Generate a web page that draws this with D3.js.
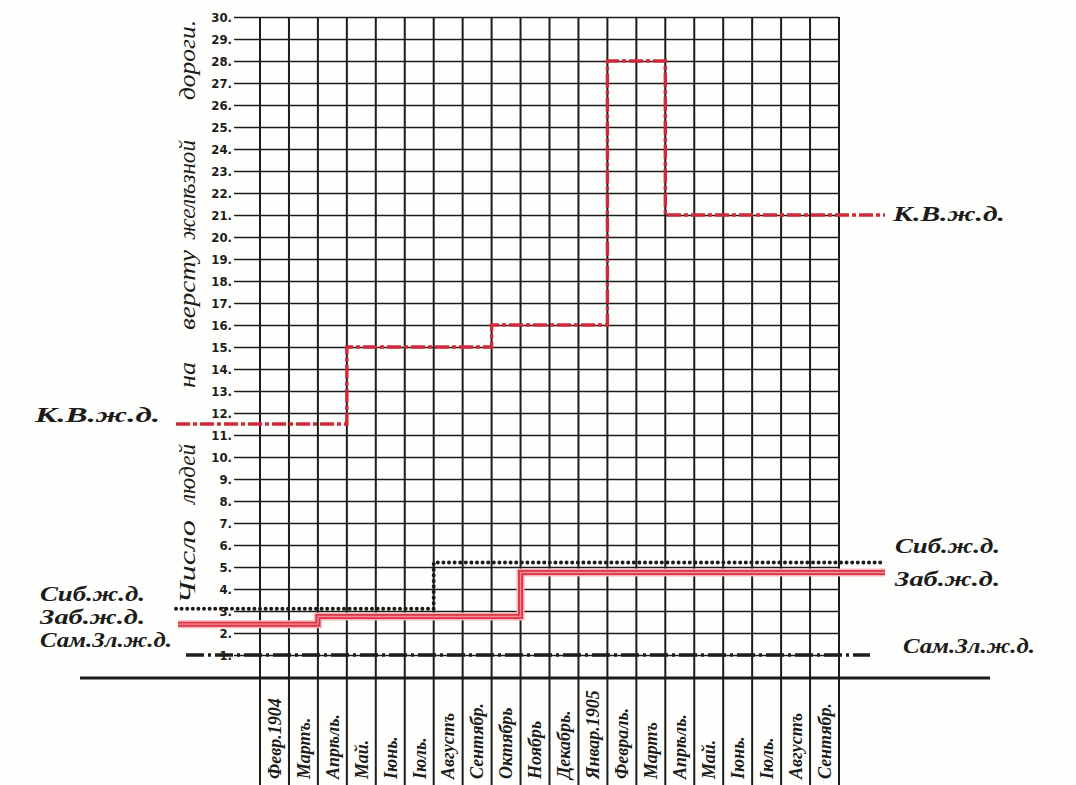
<!DOCTYPE html>
<html><head><meta charset="utf-8">
<script src="https://cdn.jsdelivr.net/npm/d3@7"></script>
<style>
html,body{margin:0;padding:0;background:#fefefc;}
svg{display:block;}
</style></head>
<body>
<svg id="chart" width="1076" height="785"></svg>
<script>
// ---- data ----
const months = ["Февр.1904","Мартъ.","Апрѣль.","Май.","Іюнь.","Іюль.","Августъ","Сентябр.","Октябрь","Ноябрь",
  "Декабрь.","Январ.1905","Февраль.","Мартъ","Апрѣль.","Май.","Іюнь.","Іюль.","Августъ","Сентябр."];
const yTicks = d3.range(1, 31);
const kvzd = [11.5,11.5,11.5,15,15,15,15,15,16,16,16,16,28,28,21,21,21,21,21,21];
const sibzd = [3.1,3.1,3.1,3.1,3.1,3.1,5.2,5.2,5.2,5.2,5.2,5.2,5.2,5.2,5.2,5.2,5.2,5.2,5.2,5.2];
const zabzd = [2.4,2.4,2.75,2.75,2.75,2.75,2.75,2.75,2.75,4.75,4.75,4.75,4.75,4.75,4.75,4.75,4.75,4.75,4.75,4.75];
const samzd = [1,1,1,1,1,1,1,1,1,1,1,1,1,1,1,1,1,1,1,1];
const seriesNames = ["К.В.ж.д.","Сиб.ж.д.","Заб.ж.д.","Сам.Зл.ж.д."];
const titleWords = ["Число","людей","на","версту","желѣзной","дороги."];

// ---- layout ----
const svg = d3.select("#chart");
const x = d3.scaleLinear().domain([0, months.length]).range([260, 839]);
const y = d3.scaleLinear().domain([0, 30]).range([677, 17]);
const ink = "#1c1c1a";
const red = "#d02a3a";
const script = "'Liberation Serif','DejaVu Serif',serif";

// horizontal grid + labels via axis
const yAxis = d3.axisLeft(y).tickValues(yTicks).tickFormat(d => d + ".")
  .tickSize(839 - 234).tickPadding(2);
const ga = svg.append("g").attr("transform", "translate(839,0)").call(yAxis);
ga.select(".domain").remove();
ga.selectAll(".tick line").attr("stroke", ink).attr("stroke-width", 1.6);
ga.selectAll(".tick text").attr("fill", ink).attr("font-family", "'DejaVu Sans Condensed','DejaVu Sans',sans-serif")
  .attr("font-weight", "bold").attr("font-size", 13);

// vertical grid (through label table)
svg.append("g").selectAll("line").data(d3.range(0, months.length + 1)).join("line")
  .attr("x1", d => x(d)).attr("x2", d => x(d))
  .attr("y1", y(30)).attr("y2", 785)
  .attr("stroke", ink).attr("stroke-width", 2);

// thick baseline
svg.append("line").attr("x1", 80).attr("x2", 990).attr("y1", y(0) + 1).attr("y2", y(0) + 1)
  .attr("stroke", ink).attr("stroke-width", 3);

// month labels
svg.append("g").selectAll("text").data(months).join("text")
  .attr("transform", (d, i) => `translate(${x(i + 0.5)},779) rotate(-90)`)
  .attr("dy", "0.35em")
  .attr("font-family", script).attr("font-style", "italic").attr("font-weight", "bold")
  .attr("font-size", 18).attr("fill", ink)
  .text(d => d);

// y title words
const titlePos = [562, 474, 375, 290, 190, 60];
const titleLen = [84, 60, 26, 80, 100, 80];
svg.append("g").selectAll("text").data(titleWords).join("text")
  .attr("transform", (d, i) => `translate(187,${titlePos[i]}) rotate(-90)`)
  .attr("text-anchor", "middle").attr("dy", "0.35em")
  .attr("textLength", (d, i) => titleLen[i]).attr("lengthAdjust", "spacingAndGlyphs")
  .attr("font-family", script).attr("font-style", "italic")
  .attr("font-size", 24).attr("fill", ink)
  .text(d => d);

// step lines
function stepPoints(vals, x0, x1) {
  const pts = [[x0, vals[0]]];
  vals.forEach((v, i) => pts.push([x(i), v]));
  pts.push([x(vals.length), vals[vals.length - 1]]);
  pts.push([x1, vals[vals.length - 1]]);
  return pts;
}
const line = d3.line().x(d => d[0]).y(d => y(d[1])).curve(d3.curveStepAfter);

// Заб.ж.д. : red double line
const zabPts = stepPoints(zabzd, 178, 885);
svg.append("path").attr("d", line(zabPts)).attr("fill", "none")
  .attr("stroke", "#f6b3b9").attr("stroke-width", 8);
svg.append("path").attr("d", line(zabPts)).attr("fill", "none")
  .attr("stroke", "#dc3646").attr("stroke-width", 5);
svg.append("path").attr("d", line(zabPts)).attr("fill", "none")
  .attr("stroke", "#f08e98").attr("stroke-width", 1.3);

// Сиб.ж.д. : black dotted
svg.append("path").attr("d", line(stepPoints(sibzd, 176, 885))).attr("fill", "none")
  .attr("stroke", ink).attr("stroke-width", 4).attr("stroke-linecap", "round")
  .attr("stroke-dasharray", "0 5.6");

// Сам.Зл.ж.д. : black dash-dot
svg.append("path").attr("d", line(stepPoints(samzd, 186, 870))).attr("fill", "none")
  .attr("stroke", ink).attr("stroke-width", 3.5)
  .attr("stroke-dasharray", "18 4 3 4");

// К.В.ж.д. : red dash-dot
svg.append("path").attr("d", line(stepPoints(kvzd, 176, 885))).attr("fill", "none")
  .attr("stroke", red).attr("stroke-width", 3.4)
  .attr("stroke-dasharray", "14 3 4 3");

// series labels
const leftLabels = [
  {t: seriesNames[0], x: 35, y: 414, w: 125},
  {t: seriesNames[1], x: 40, y: 593, w: 105},
  {t: seriesNames[2], x: 40, y: 616, w: 105},
  {t: seriesNames[3], x: 40, y: 639, w: 132}
];
const rightLabels = [
  {t: seriesNames[0], x: 893, y: 213, w: 112},
  {t: seriesNames[1], x: 895, y: 545, w: 105},
  {t: seriesNames[2], x: 895, y: 578, w: 105},
  {t: seriesNames[3], x: 903, y: 645, w: 132}
];
svg.append("g").selectAll("text").data(leftLabels.concat(rightLabels)).join("text")
  .attr("x", d => d.x).attr("y", d => d.y).attr("dy", "0.35em")
  .attr("textLength", d => d.w).attr("lengthAdjust", "spacingAndGlyphs")
  .attr("font-family", script).attr("font-style", "italic").attr("font-weight", "bold")
  .attr("font-size", 22).attr("fill", ink)
  .text(d => d.t);
</script>
</body></html>
